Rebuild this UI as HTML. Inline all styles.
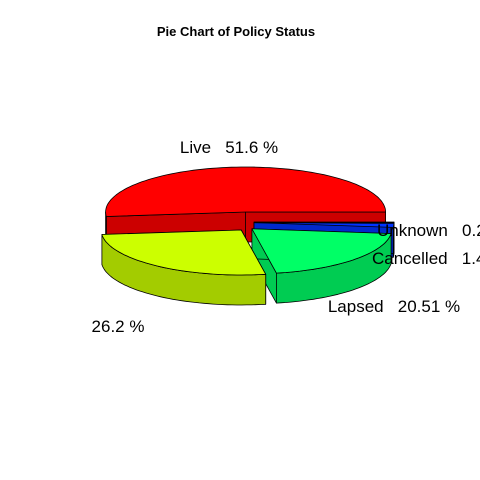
<!DOCTYPE html>
<html><head><meta charset="utf-8"><style>
html,body{margin:0;padding:0;background:#fff;}
svg{display:block;font-family:"Liberation Sans",Arial,sans-serif;}
text{white-space:pre;}
</style></head><body>
<svg id="chart" width="480" height="480" viewBox="0 0 480 480" xmlns="http://www.w3.org/2000/svg" xml:space="preserve">
<rect width="480" height="480" fill="#fff"/>
<text x="236" y="36" text-anchor="middle" font-size="13" font-weight="bold">Pie Chart of Policy Status</text>
<g id="slices"></g>
<g id="labels"></g>
</svg>
<script>
var categories = ["Live", "", "Lapsed", "Cancelled", "Unknown"];
var values = [51.6, 26.2, 20.51, 1.4, 0.29];
var labelTexts = ["Live   51.6 %", "26.2 %", "Lapsed   20.51 %", "Cancelled   1.4 %", "Unknown   0.29 %"];
var topColors = ["#FF0000", "#CCFF00", "#00FF66", "#0033FF", "#0066FF"];
var sideColors = ["#CC0000", "#A3CC00", "#00CC52", "#0029CC", "#0052CC"];

var NS = "http://www.w3.org/2000/svg";
var CX = 246, CY = 222, RX = 140, RY = 45, H = 30, EX = 8, EY = 10;
var total = values.reduce(function(a,b){return a+b;},0);
var angles = [], acc = 0;
for (var i = 0; i < values.length; i++) {
  var a0 = acc / total * 360; acc += values[i];
  angles.push([a0, acc / total * 360]);
}
function rad(d){return d*Math.PI/180;}
function center(i){
  var m = rad((angles[i][0]+angles[i][1])/2);
  return [CX + EX*Math.cos(m), CY - EY*Math.sin(m)];
}
function pt(c, a, dy){ return [c[0] + RX*Math.cos(rad(a)), c[1] - RY*Math.sin(rad(a)) + (dy||0)]; }
function arcPts(c, a0, a1, dy){
  var pts = [], n = Math.max(2, Math.ceil(Math.abs(a1-a0)/2));
  for (var k = 0; k <= n; k++) pts.push(pt(c, a0 + (a1-a0)*k/n, dy));
  return pts;
}
function poly(pts, fill, name){
  var p = document.createElementNS(NS, "polygon");
  p.setAttribute("points", pts.map(function(q){return q[0].toFixed(1)+","+q[1].toFixed(1);}).join(" "));
  p.setAttribute("fill", fill);
  p.setAttribute("stroke", "#000");
  p.setAttribute("stroke-width", "0.8");
  p.setAttribute("stroke-linejoin", "round");
  
  
  document.getElementById("slices").appendChild(p);
}
var order = [0, 4, 3, 2, 1];
order.forEach(function(i){
  var c = center(i), a0 = angles[i][0], a1 = angles[i][1];
  var key = (categories[i] || "other").toLowerCase();
  [a0, a1].forEach(function(a, j){
    var r = pt(c, a);
    poly([c, r, [r[0], r[1]+H], [c[0], c[1]+H]], sideColors[i], "slice-" + key + "-radial-side-" + j);
  });
  var s = Math.max(a0, 180), e = Math.min(a1, 360);
  if (e > s) {
    var top = arcPts(c, s, e, 0), bot = arcPts(c, e, s, H);
    poly(top.concat(bot), sideColors[i], "slice-" + key + "-outer-side");
  }
  poly([c].concat(arcPts(c, a0, a1, 0)), topColors[i], "slice-" + key + "-top");
});
var labelPos = [[229,153],[118,332],[394,312],[372,264],[377,236]];
var lg = document.getElementById("labels");
labelTexts.forEach(function(t, i){
  var tx = document.createElementNS(NS, "text");
  tx.setAttribute("x", labelPos[i][0]);
  tx.setAttribute("y", labelPos[i][1]);
  tx.setAttribute("font-size", "17");
  tx.setAttribute("text-anchor", i < 3 ? "middle" : "start");
  tx.textContent = t;
  
  
  lg.appendChild(tx);
});
</script>
</body></html>
